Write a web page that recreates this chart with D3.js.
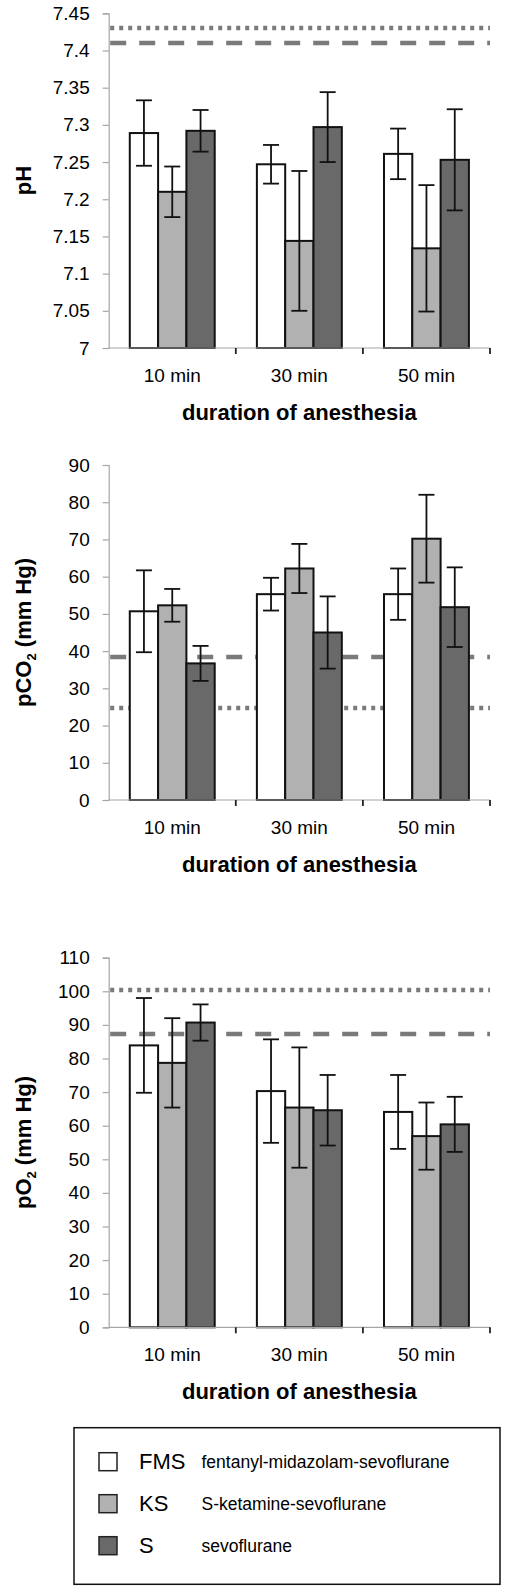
<!DOCTYPE html>
<html>
<head>
<meta charset="utf-8">
<script src="https://cdn.jsdelivr.net/npm/d3@7/dist/d3.min.js"></script>
<style>
  html, body { margin: 0; padding: 0; background: #fff; }
  svg { display: block; font-family: "Liberation Sans", Arial, sans-serif; }
</style>
</head>
<body>
<svg id="chart" width="511" height="1593"></svg>
<script>
// ---------- DATA ----------
const categories = ["10 min", "30 min", "50 min"];
const seriesKeys = ["FMS", "KS", "S"];
const seriesNames = ["fentanyl-midazolam-sevoflurane", "S-ketamine-sevoflurane", "sevoflurane"];
const seriesColors = ["#ffffff", "#b1b1b1", "#696969"];

// pH
const phFMS = [7.289, 7.247, 7.261];
const phKS  = [7.210, 7.144, 7.134];
const phS   = [7.292, 7.297, 7.253];
const phFMSsd = [0.044, 0.026, 0.034];
const phKSsd  = [0.034, 0.094, 0.085];
const phSsd   = [0.028, 0.047, 0.068];
const phTicks = [7, 7.05, 7.1, 7.15, 7.2, 7.25, 7.3, 7.35, 7.4, 7.45];
const phDotted = 7.43;
const phDashed = 7.41;

// pCO2
const co2FMS = [50.7, 55.3, 55.3];
const co2KS  = [52.3, 62.2, 70.2];
const co2S   = [36.7, 45.0, 51.8];
const co2FMSsd = [11.0, 4.4, 6.9];
const co2KSsd  = [4.4, 6.6, 11.8];
const co2Ssd   = [4.7, 9.7, 10.7];
const co2Ticks = [0, 10, 20, 30, 40, 50, 60, 70, 80, 90];
const co2Dashed = 38.3;
const co2Dotted = 24.8;

// pO2
const o2FMS = [83.9, 70.3, 64.1];
const o2KS  = [78.7, 65.4, 56.9];
const o2S   = [90.7, 64.6, 60.4];
const o2FMSsd = [14.1, 15.4, 11.0];
const o2KSsd  = [13.3, 17.9, 10.0];
const o2Ssd   = [5.4, 10.5, 8.2];
const o2Ticks = [0, 10, 20, 30, 40, 50, 60, 70, 80, 90, 100, 110];
const o2Dotted = 100.3;
const o2Dashed = 87.4;

const xTitle = "duration of anesthesia";

// ---------- DRAWING ----------
const svg = d3.select("#chart");
const left = 108.7, right = 490;

function drawChart(opts) {
  const g = svg.append("g");
  const y = d3.scaleLinear().domain(opts.domain).range([opts.bottom, opts.top]);
  const x0 = d3.scaleBand().domain(categories).range([left, right]).padding(0);
  const x1 = d3.scaleBand().domain(seriesKeys).range([0, x0.bandwidth()])
    .paddingInner(0).paddingOuter(0.745);

  // y axis
  const yAxis = d3.axisLeft(y).tickValues(opts.ticks).tickSize(6).tickPadding(13)
    .tickFormat(d => String(d));
  const ya = g.append("g").attr("transform", `translate(${left},0)`).call(yAxis);
  ya.select(".domain").attr("stroke", "#a6a6a6").attr("stroke-width", 1.2);
  ya.selectAll(".tick line").attr("stroke", "#a6a6a6").attr("stroke-width", 1.2);
  ya.selectAll(".tick text").attr("fill", "#000").style("font-size", "19px")
    .style("font-family", "Liberation Sans, Arial, sans-serif");

  // reference lines (behind bars)
  const refs = [
    { v: opts.dotted, dash: "4,5" },
    { v: opts.dashed, dash: "16,13" }
  ];
  g.selectAll("line.ref").data(refs).enter().append("line")
    .attr("class", "ref")
    .attr("x1", left + 1.5).attr("x2", right)
    .attr("y1", d => Math.round(y(d.v))).attr("y2", d => Math.round(y(d.v)))
    .attr("stroke", "#7a7a7a").attr("stroke-width", 4.5)
    .attr("stroke-dasharray", d => d.dash);

  // bars
  const rows = [];
  categories.forEach((c, i) => {
    seriesKeys.forEach((s, j) => {
      rows.push({ cat: c, key: s, color: seriesColors[j], v: opts.means[j][i], sd: opts.sds[j][i] });
    });
  });
  g.selectAll("rect.bar").data(rows).enter().append("rect")
    .attr("class", "bar")
    .attr("x", d => x0(d.cat) + x1(d.key))
    .attr("width", x1.bandwidth())
    .attr("y", d => y(d.v))
    .attr("height", d => y(opts.domain[0]) - y(d.v))
    .attr("fill", d => d.color)
    .attr("stroke", "#111").attr("stroke-width", 2);

  // x axis
  const xa = g.append("g").attr("transform", `translate(0,${opts.bottom})`);
  xa.append("line").attr("x1", left).attr("x2", right).attr("stroke", "#a6a6a6").attr("stroke-width", 1.2);
  const bounds = categories.map(c => x0(c) + x0.bandwidth());
  xa.selectAll("line.tk").data(bounds).enter().append("line").attr("class", "tk")
    .attr("x1", d => d).attr("x2", d => d).attr("y1", 0).attr("y2", 6)
    .attr("stroke", "#222").attr("stroke-width", 1.8);
  xa.selectAll("text.cat").data(categories).enter().append("text").attr("class", "cat")
    .attr("x", d => x0(d) + x0.bandwidth() / 2).attr("y", 34)
    .attr("text-anchor", "middle").style("font-size", "19px").text(d => d);

  // error bars
  const eb = g.selectAll("g.eb").data(rows).enter().append("g").attr("class", "eb")
    .attr("stroke", "#111").attr("stroke-width", 1.8);
  const cx = d => x0(d.cat) + x1(d.key) + x1.bandwidth() / 2;
  eb.append("line").attr("x1", cx).attr("x2", cx)
    .attr("y1", d => y(d.v + d.sd)).attr("y2", d => y(d.v - d.sd));
  eb.append("line").attr("x1", d => cx(d) - 8).attr("x2", d => cx(d) + 8)
    .attr("y1", d => y(d.v + d.sd)).attr("y2", d => y(d.v + d.sd));
  eb.append("line").attr("x1", d => cx(d) - 8).attr("x2", d => cx(d) + 8)
    .attr("y1", d => y(d.v - d.sd)).attr("y2", d => y(d.v - d.sd));

  // x title
  g.append("text").attr("x", (left + right) / 2).attr("y", opts.bottom + 72)
    .attr("text-anchor", "middle").style("font-size", "22px").style("font-weight", "bold")
    .text(xTitle);

  // y title
  const yt = g.append("text")
    .attr("transform", `translate(31,${(opts.top + opts.bottom) / 2}) rotate(-90)`)
    .attr("text-anchor", "middle").style("font-size", "22px").style("font-weight", "bold");
  opts.yTitle.forEach(p => {
    const t = yt.append("tspan").text(p.t);
    if (p.sub) t.style("font-size", "13px").attr("dy", 5);
    if (p.after) t.attr("dy", -5);
  });
}

drawChart({
  domain: [7, 7.45], top: 13.3, bottom: 348, ticks: phTicks,
  means: [phFMS, phKS, phS], sds: [phFMSsd, phKSsd, phSsd],
  dotted: phDotted, dashed: phDashed,
  yTitle: [{ t: "pH" }]
});
drawChart({
  domain: [0, 90], top: 465, bottom: 800, ticks: co2Ticks,
  means: [co2FMS, co2KS, co2S], sds: [co2FMSsd, co2KSsd, co2Ssd],
  dotted: co2Dotted, dashed: co2Dashed,
  yTitle: [{ t: "pCO" }, { t: "2", sub: true }, { t: " (mm Hg)", after: true }]
});
drawChart({
  domain: [0, 110], top: 957.7, bottom: 1327.3, ticks: o2Ticks,
  means: [o2FMS, o2KS, o2S], sds: [o2FMSsd, o2KSsd, o2Ssd],
  dotted: o2Dotted, dashed: o2Dashed,
  yTitle: [{ t: "pO" }, { t: "2", sub: true }, { t: " (mm Hg)", after: true }]
});

// ---------- LEGEND ----------
const lg = svg.append("g");
lg.append("rect").attr("x", 74).attr("y", 1427.7).attr("width", 426).attr("height", 156.6)
  .attr("fill", "none").attr("stroke", "#111").attr("stroke-width", 1.5);
const ly = d3.scalePoint().domain(seriesKeys).range([1461.7, 1545.7]);
const items = lg.selectAll("g.item").data(seriesKeys).enter().append("g").attr("class", "item");
items.append("rect").attr("x", 99).attr("y", d => ly(d) - 9).attr("width", 18).attr("height", 18)
  .attr("fill", (d, i) => seriesColors[i]).attr("stroke", "#222").attr("stroke-width", 1.5);
items.append("text").attr("x", 139).attr("y", d => ly(d) + 7.5)
  .style("font-size", "22px").text(d => d);
items.append("text").attr("x", 201.5).attr("y", d => ly(d) + 6.5)
  .style("font-size", "17.5px").text((d, i) => seriesNames[i]);
</script>
</body>
</html>
